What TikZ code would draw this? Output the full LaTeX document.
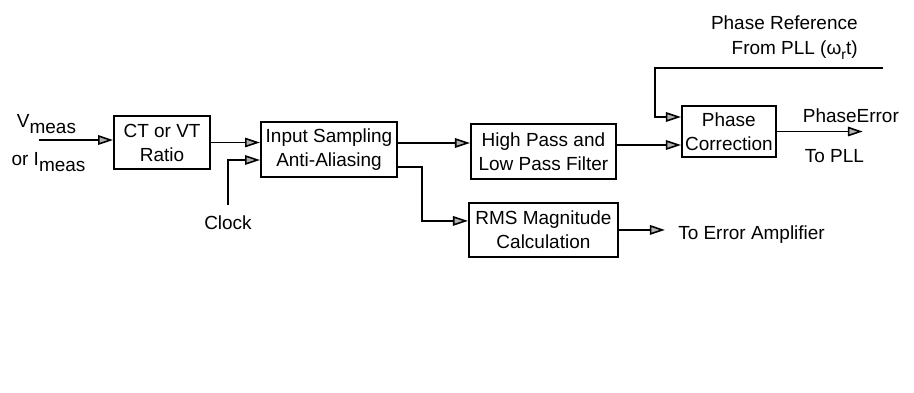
\documentclass[tikz,border=0pt]{standalone}
\usepackage{fontspec}
\setmainfont{Liberation Sans}
\usetikzlibrary{arrows.meta,positioning,calc}

\begin{document}
\begin{tikzpicture}[>={Triangle[length=0.3cm,width=0.19cm,fill=gray!60]},
  block/.style={draw,line width=1.1pt,align=center,inner sep=1pt,font=\fontsize{10.8}{13.7}\selectfont},
  lbl/.style={align=center,inner sep=0pt,font=\fontsize{10.8}{14.2}\selectfont},
  flow/.style={->,line width=0.9pt}]
\useasboundingbox (0,0) rectangle (18.28,7.84);
\node[block,minimum width=2.72cm,minimum height=1.1cm] (insamp) at (6.58,4.85) {Input Sampling\\Anti-Aliasing};
\node[block,minimum width=1.92cm,minimum height=1.06cm,left=0.98cm of insamp,yshift=0.14cm] (ratio) {CT or VT\\Ratio};
\node[block,minimum width=2.9cm,minimum height=1.1cm,right=1.44cm of insamp,yshift=-0.04cm] (hpf) {High Pass and\\Low Pass Filter};
\node[block,minimum width=2.98cm,minimum height=1.08cm,below=0.44cm of hpf] (rms) {RMS Magnitude\\Calculation};
\node[block,minimum width=1.88cm,minimum height=1.02cm,right=1.28cm of hpf,yshift=0.4cm] (phcor) {Phase\\Correction};
\coordinate (vin) at (0.78,5.04);
\coordinate (clk) at (4.56,3.74);
\coordinate (pref) at (17.66,6.48);
\coordinate[right=0.92cm of rms.east] (erramp);
\coordinate[right=1.72cm of phcor.east] (perr);
\draw[flow] (vin) -- (vin -| ratio.west);
\draw[flow] (ratio.east) -- (ratio.east -| insamp.west);
\draw[flow] (clk) |- ([yshift=-0.21cm]insamp.west);
\draw[flow] ([yshift=0.13cm]insamp.east) -- ([yshift=0.13cm]insamp.east -| hpf.west);
\draw[flow] ([yshift=-0.35cm]insamp.east) -- ++(0.48,0) |- ([yshift=0.18cm]rms.west);
\draw[flow] ([yshift=0.13cm]hpf.east) -- ([yshift=0.13cm]hpf.east -| phcor.west);
\draw[flow] (pref) -| ([xshift=-0.52cm,yshift=0.29cm]phcor.west) -- ([yshift=0.29cm]phcor.west);
\draw[flow] (phcor.east) -- (perr);
\draw[flow] (rms.east) -- (erramp);
\node[lbl] (vlbl) at (0.93,5.36) {V\raisebox{-0.6ex}{meas}};
\node[lbl] (ilbl) at (0.97,4.6) {or I\raisebox{-0.6ex}{meas}};
\node[lbl,below=0.2cm of clk] (clock) {Clock};
\node[lbl,anchor=west] (toamp) at ([xshift=0.26cm,yshift=-0.1cm]erramp) {To Error Amplifier};
\node[lbl] (perrlbl) at ([xshift=-0.24cm,yshift=0.32cm]perr) {PhaseError};
\node[lbl] (topll) at ([xshift=-0.57cm,yshift=-0.5cm]perr) {To PLL};
\node[lbl,align=right,anchor=east] (preflbl) at (17.16,7.08) {Phase Reference\\From PLL (ω\raisebox{-0.5ex}{\fontsize{8}{8}\selectfont r}t)};
\end{tikzpicture}
\end{document}
